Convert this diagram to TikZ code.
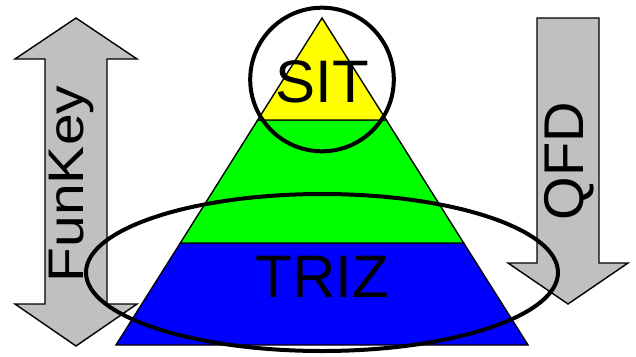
\documentclass[tikz,border=0pt]{standalone}
\usepackage{fontspec}
\setmainfont{Liberation Sans}
\usetikzlibrary{shapes.geometric}
\definecolor{arrowgray}{RGB}{192,192,192}
\definecolor{layeryellow}{RGB}{255,255,0}
\definecolor{layergreen}{RGB}{0,255,0}
\definecolor{layerblue}{RGB}{0,0,255}
\begin{document}
\begin{tikzpicture}[x=1pt,y=-1pt,
  arrowbox/.style={draw=black, fill=arrowgray, line width=1.4pt, line join=miter},
  layer/.style={draw=black, line width=1.4pt, line join=miter},
  bigtext/.style={anchor=base, inner sep=0pt, font=\fontsize{60}{72}\selectfont},
  sidetext/.style={anchor=base, inner sep=0pt, rotate=90},
  ring/.style={draw=black, line width=4pt, inner sep=0pt}]
\useasboundingbox (0,0) rectangle (636,356);
% left double arrow
\draw[arrowbox] (76,18) -- (137,59) -- (107,59) -- (107,304) -- (137,304)
  -- (76,346) -- (15,304) -- (45,304) -- (45,59) -- (15,59) -- cycle;
% right down arrow
\draw[arrowbox] (537,18) -- (599,18) -- (599,263) -- (628,263) -- (568,304)
  -- (508,263) -- (537,263) -- cycle;
% pyramid layers
\draw[layer, fill=layerblue] (180.3,243) -- (463.7,243) -- (528,345) -- (116,345) -- cycle;
\draw[layer, fill=layergreen] (257.7,120) -- (386.3,120) -- (463.7,243) -- (180.3,243) -- cycle;
\draw[layer, fill=layeryellow] (322,18) -- (386.3,120) -- (257.7,120) -- cycle;
% texts
\node[bigtext] (sit) at (322,102) {SIT};
\node[bigtext] (triz) at (322,297) {TRIZ};
\node[sidetext, font=\fontsize{56}{66}\selectfont] (qfd) at (583,161) {QFD};
\node[sidetext, font=\fontsize{50}{60}\selectfont] (funkey) at (83,184) {\scalebox{1.14}[1]{FunKey}};
% rings
\node[ring, circle, minimum size=143.6pt] (sitring) at (322,79.5) {};
\node[ring, ellipse, minimum width=472pt, minimum height=157pt] (trizring) at (322,272.5) {};
\end{tikzpicture}
\end{document}
